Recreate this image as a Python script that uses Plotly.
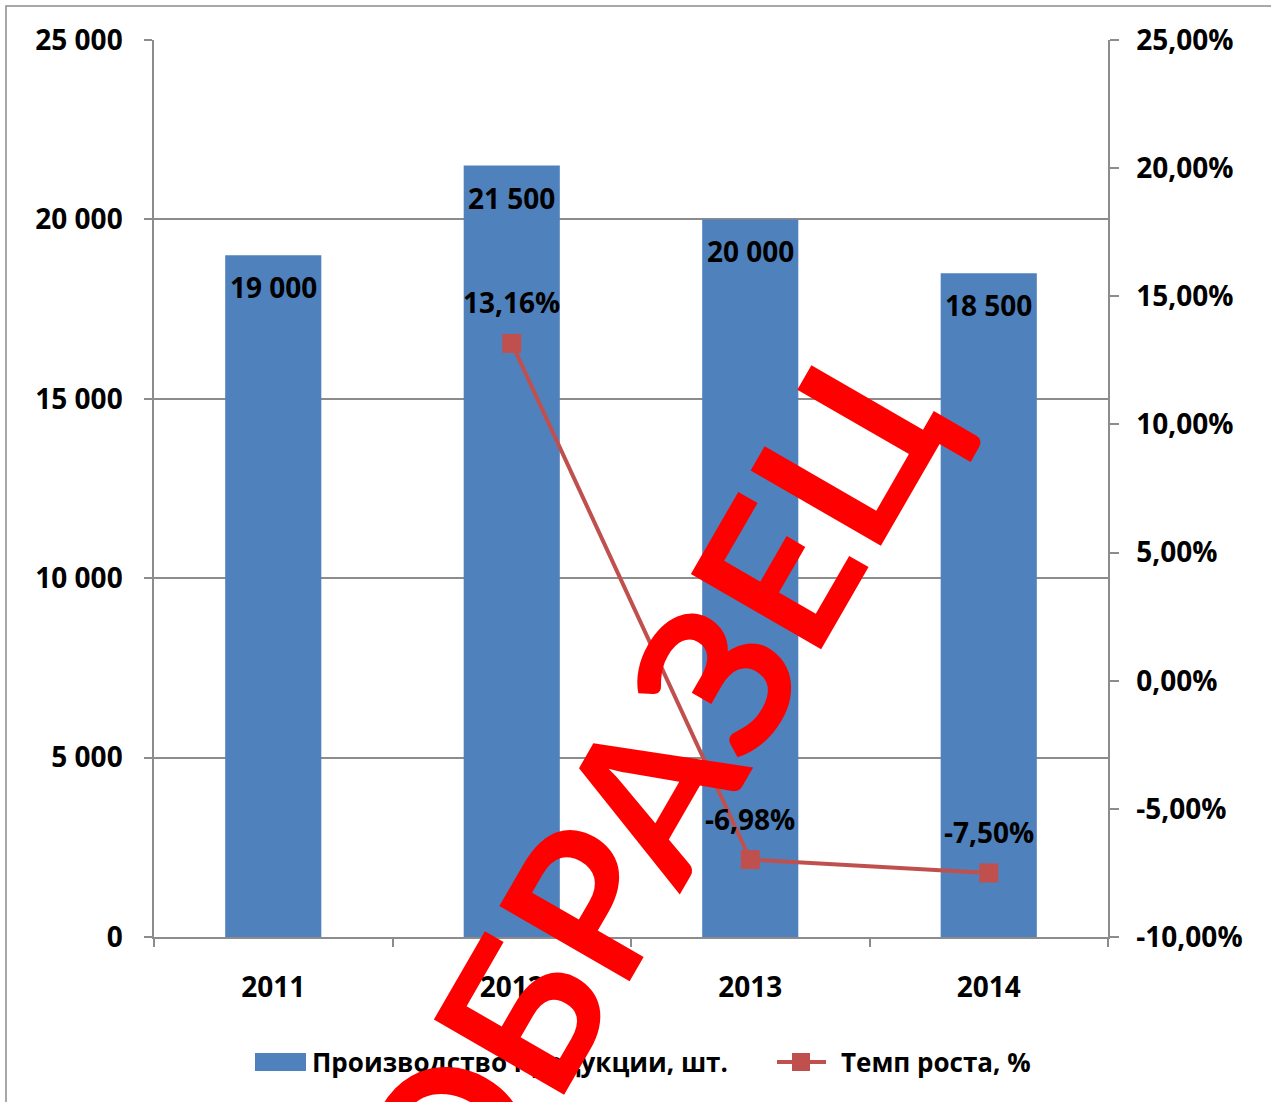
import plotly.graph_objects as go

years = ["2011", "2012", "2013", "2014"]
production = [19000, 21500, 20000, 18500]
production_labels = ["19 000", "21 500", "20 000", "18 500"]
growth = [None, 0.1316, -0.0698, -0.0750]
growth_labels = [None, "13,16%", "-6,98%", "-7,50%"]
y2_ticks = [-0.10, -0.05, 0.0, 0.05, 0.10, 0.15, 0.20, 0.25]
y2_tick_labels = ["-10,00%", "-5,00%", "0,00%", "5,00%", "10,00%",
                  "15,00%", "20,00%", "25,00%"]
series_names = ["Производство продукции, шт.", "Темп роста, %"]

BLUE = "#4F81BD"
RED = "#C0504D"
GRID = "#8C8C8C"
FAMILY = "Open Sans"
FONT = dict(family=FAMILY, size=28, color="#000000", weight="bold")
LEG_FONT = dict(family=FAMILY, size=26, color="#000000", weight="bold")

W, H = 1271, 1102
L, R, T, B = 154, 1108, 40, 937
pw, ph = R - L, B - T


def px(x):
    return (x - L) / pw


def py(y):
    return (B - y) / ph


fig = go.Figure()
fig.add_trace(go.Bar(
    x=years, y=production, name=series_names[0],
    marker=dict(color=BLUE, line=dict(width=0)), yaxis="y",
    showlegend=False,
))
fig.add_trace(go.Scatter(
    x=years, y=growth, name=series_names[1], yaxis="y2",
    mode="lines+markers",
    line=dict(color=RED, width=4),
    marker=dict(symbol="square", size=19, color=RED),
    connectgaps=False, showlegend=False,
))

annotations = []
for i, (v, lab) in enumerate(zip(production, production_labels)):
    annotations.append(dict(x=i, y=v, xref="x", yref="y", text=lab,
                            showarrow=False, yshift=-32, yanchor="middle",
                            font=FONT))
for i, (v, lab) in enumerate(zip(growth, growth_labels)):
    if v is None:
        continue
    annotations.append(dict(x=i, y=v, xref="x", yref="y2", text=lab,
                            showarrow=False, yshift=41, yanchor="middle",
                            font=FONT))

# legend (drawn by hand to match the wide Excel swatches)
annotations.append(dict(x=px(310), y=py(1062), xref="paper", yref="paper",
                        text=series_names[0], showarrow=False,
                        xanchor="left", yanchor="middle", font=LEG_FONT))
annotations.append(dict(x=px(839), y=py(1062), xref="paper", yref="paper",
                        text=series_names[1], showarrow=False,
                        xanchor="left", yanchor="middle", font=LEG_FONT))

# watermark
annotations.append(dict(
    x=px(643), y=py(796), xref="paper", yref="paper",
    text="ОБРАЗЕЦ", showarrow=False, textangle=-60,
    xanchor="center", yanchor="middle",
    font=dict(family="Lato", size=208, color="#FF0000", weight="bold"),
))

shapes = [
    dict(type="rect", xref="paper", yref="paper",
         x0=px(6), x1=px(W + 40), y0=py(H + 40), y1=py(6),
         line=dict(color=GRID, width=1.5), fillcolor="rgba(0,0,0,0)",
         layer="below"),
    dict(type="rect", xref="paper", yref="paper",
         x0=px(255), x1=px(306), y0=py(1071), y1=py(1053),
         line=dict(width=0), fillcolor=BLUE),
    dict(type="line", xref="paper", yref="paper",
         x0=px(777), x1=px(826), y0=py(1062), y1=py(1062),
         line=dict(color=RED, width=4)),
    dict(type="rect", xref="paper", yref="paper",
         x0=px(792), x1=px(810), y0=py(1071), y1=py(1053),
         line=dict(width=0), fillcolor=RED),
]

fig.update_layout(
    width=W, height=H,
    margin=dict(l=L, r=W - R, t=T, b=H - B, autoexpand=False),
    paper_bgcolor="white", plot_bgcolor="white",
    separators=", ",
    bargap=0.597,
    showlegend=False,
    font=FONT,
    xaxis=dict(type="category", categoryorder="array", categoryarray=years,
               range=[-0.5, len(years) - 0.5],
               showgrid=False, showline=True, linecolor=GRID,
               linewidth=1.5, ticks="outside", tickson="boundaries", ticklen=8,
               tickcolor=GRID, tickwidth=1.5, tickfont=FONT, tickangle=0,
               ticklabelstandoff=25, automargin=False, zeroline=False),
    yaxis=dict(range=[0, 25000], dtick=5000, tickformat=",d", showgrid=True,
               gridcolor=GRID, gridwidth=1.5, showline=True, linecolor=GRID,
               linewidth=1.5, ticks="outside", ticklen=8, tickcolor=GRID,
               tickwidth=1.5, tickfont=FONT, ticklabelstandoff=16,
               automargin=False, zeroline=False),
    yaxis2=dict(range=[-0.10, 0.25], tickmode="array", tickvals=y2_ticks,
                ticktext=y2_tick_labels,
                overlaying="y", side="right", showgrid=False, showline=True,
                linecolor=GRID, linewidth=1.5, ticks="outside", ticklen=9,
                tickcolor=GRID, tickwidth=1.5, tickfont=FONT,
                ticklabelstandoff=12, automargin=False, zeroline=False),
    annotations=annotations,
    shapes=shapes,
)

fig.write_html("out.html", post_script="document.body.style.margin='0';",
               config={"displayModeBar": False})
